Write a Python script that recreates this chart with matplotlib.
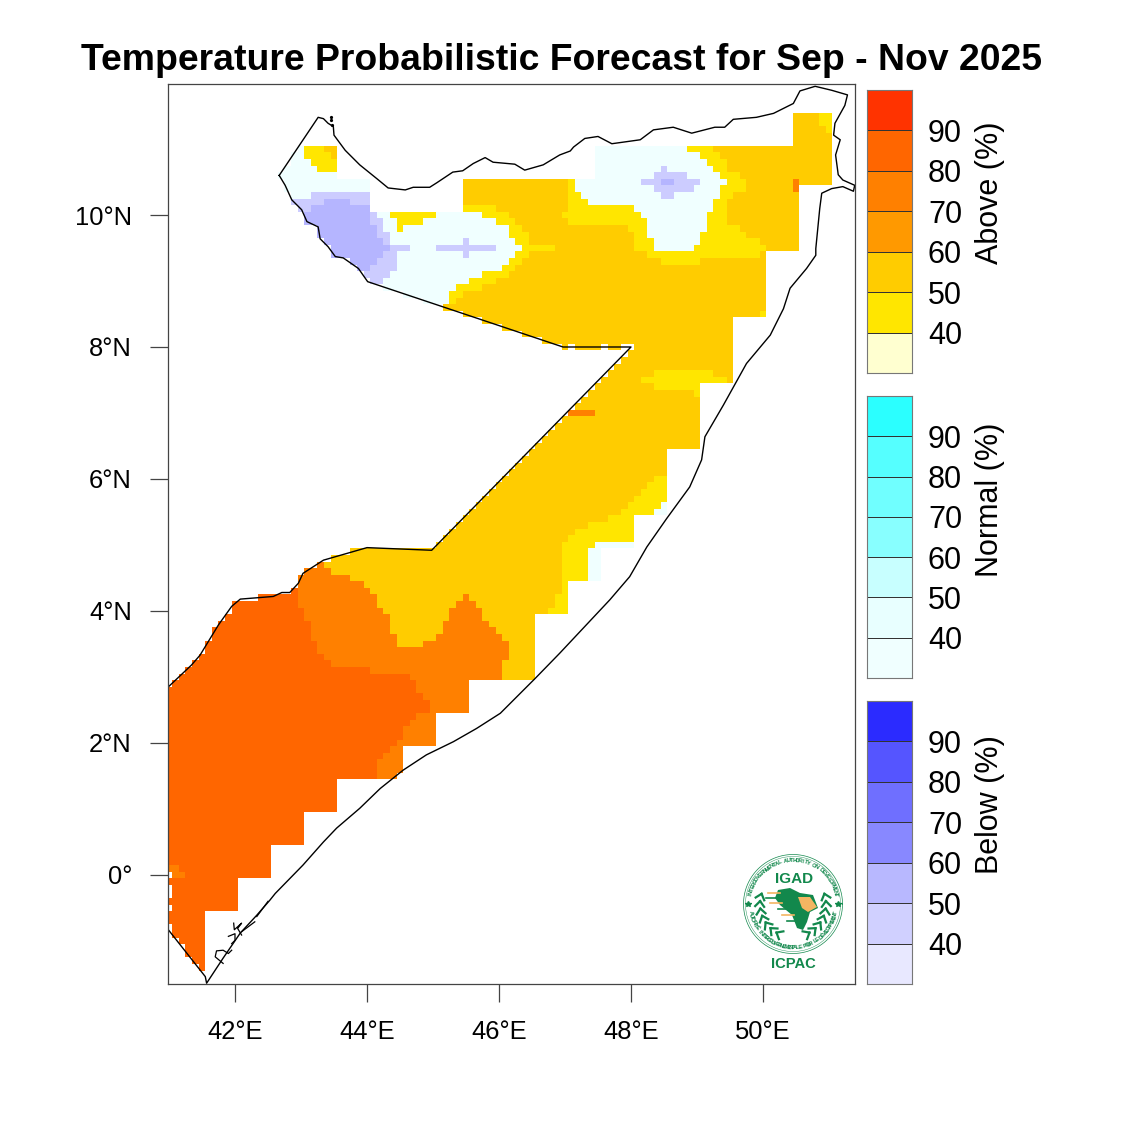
import numpy as np
import matplotlib
matplotlib.use("Agg")
import matplotlib.pyplot as plt
from matplotlib.colors import ListedColormap
from matplotlib.path import Path

plt.rcParams['font.family'] = ['Liberation Sans', 'DejaVu Sans']

# Somalia outline (lon, lat)
border = [(42.67,10.60),(43.26,11.48),(43.34,11.46),(43.41,11.39),(43.49,11.34),(43.50,11.21),(43.67,10.98),
    (43.89,10.76),(44.15,10.55),(44.32,10.41),(44.58,10.38),(44.70,10.42),(44.95,10.42),(45.06,10.49),(45.30,10.65),
    (45.45,10.67),(45.61,10.78),(45.79,10.87),(45.91,10.80),(46.24,10.77),(46.39,10.68),(46.67,10.76),(46.92,10.91),
    (47.08,10.97),(47.13,11.03),(47.30,11.16),(47.50,11.19),(47.71,11.08),(48.14,11.14),(48.34,11.29),(48.64,11.33),
    (48.92,11.24),(49.27,11.33),(49.42,11.33),(49.55,11.45),(49.90,11.48),(50.16,11.54),(50.46,11.69),(50.56,11.88),
    (50.79,11.95),(51.04,11.89),(51.28,11.82),(51.24,11.66),(51.09,11.39),(51.07,11.21),(51.17,11.14),(51.10,10.91),
    (51.14,10.61),(51.21,10.53),(51.39,10.45),(51.37,10.36),(51.21,10.43),(51.04,10.40),(50.89,10.33),(50.86,10.10),
    (50.80,9.49),(50.80,9.39),(50.66,9.19),(50.41,8.89),(50.31,8.58),(50.11,8.18),(49.75,7.75),(49.40,7.12),
    (49.12,6.64),(49.07,6.29),(48.89,5.88),(48.54,5.40),(48.24,4.97),(47.98,4.52),(47.68,4.17),(46.92,3.36),
    (46.55,2.98),(46.32,2.75),(46.02,2.45),(45.66,2.22),(45.31,2.02),(44.90,1.82),(44.55,1.59),(44.20,1.31),
    (43.89,1.01),(43.54,0.71),(43.34,0.50),(43.03,0.15),(42.61,-0.28),(42.53,-0.38),(42.33,-0.61),(42.08,-0.88),
    (41.82,-1.26),(41.57,-1.64),(41.55,-1.54),(40.99,-0.83),(40.99,2.85),(41.34,3.18),(41.47,3.33),(41.75,3.79),
    (41.95,4.07),(42.08,4.18),(42.58,4.22),(42.71,4.28),(42.83,4.28),(42.96,4.42),(43.03,4.57),(43.34,4.77),
    (44.00,4.96),(44.98,4.92),(48.00,8.00),(46.97,8.00),(44.01,8.99),(43.94,9.09),(43.87,9.19),(43.64,9.35),
    (43.52,9.37),(43.41,9.52),(43.29,9.64),(43.26,9.82),(43.09,9.90),(43.01,10.08),(42.86,10.23),(42.76,10.45),
    (42.67,10.60)]
islands = [[(41.82,-1.34),(41.70,-1.24),(41.72,-1.15),(41.82,-1.14),(41.90,-1.19),(41.95,-1.14)],
    [(41.90,-0.93),(42.00,-0.89),(42.00,-0.99),(41.95,-1.04)],
    [(41.98,-0.73),(41.99,-0.83),(42.10,-0.73),(42.04,-0.81),(42.10,-0.91)],
    [(42.10,-0.86),(42.30,-0.71)],
    [(42.33,-0.63),(42.50,-0.40)]]
islets_lon = [43.45, 43.46, 43.47]
islets_lat = [11.49, 11.44, 11.36]

# area with forecast data, stepped along the coast
coverage = [(41.55,-1.7),(41.55,-0.55),(42.05,-0.55),(42.05,-0.05),(42.55,-0.05),(42.55,0.45),(43.05,0.45),(43.05,0.95),
    (43.55,0.95),(43.55,1.45),(44.55,1.45),(44.55,1.95),(45.05,1.95),(45.05,2.45),(45.55,2.45),(45.55,2.95),(46.55,2.95),
    (46.55,3.95),(47.05,3.95),(47.05,4.45),(47.55,4.45),(47.55,4.95),(48.05,4.95),(48.05,5.45),(48.55,5.45),(48.55,6.45),
    (49.05,6.45),(49.05,7.45),(49.55,7.45),(49.55,8.45),(50.05,8.45),(50.05,9.45),(50.55,9.45),(50.55,10.45),(51.05,10.45),
    (51.05,11.55),(50.45,11.55),(50.45,11.05),(47.45,11.05),(47.45,10.55),(45.45,10.55),(45.45,10.05),(44.05,10.05),
    (44.05,10.55),(43.55,10.55),(43.55,11.05),(40.8,11.05),(40.8,-1.7)]

# forecast categories, painted in this order
above_70 = [(43.35,4.75),(43.35,4.65),(43.45,4.65),(43.45,4.55),(43.75,4.55),(43.75,4.45),(43.95,4.45),(43.95,4.35),
    (44.05,4.35),(44.05,4.25),(44.15,4.25),(44.15,4.05),(44.25,4.05),(44.25,3.95),(44.35,3.95),(44.35,3.65),(44.45,3.65),
    (44.45,3.45),(44.85,3.45),(44.85,3.55),(45.05,3.55),(45.05,3.65),(45.15,3.65),(45.15,3.85),(45.25,3.85),(45.25,4.05),
    (45.35,4.05),(45.35,4.15),(45.45,4.15),(45.45,4.25),(45.55,4.25),(45.55,4.15),(45.65,4.15),(45.65,4.05),(45.75,4.05),
    (45.75,3.85),(45.85,3.85),(45.85,3.75),(45.95,3.75),(45.95,3.65),(46.05,3.65),(46.05,3.55),(46.15,3.55),(46.15,3.25),
    (46.05,3.25),(46.05,2.95),(45.55,2.95),(45.55,2.45),(45.05,2.45),(45.05,1.95),(44.55,1.95),(44.55,1.45),(43.0,1.45),
    (42.5,4.6),(42.9,4.9),(43.35,4.9)]
above_80 = [(42.95,4.6),(42.95,4.05),(43.05,4.05),(43.05,3.85),(43.15,3.85),(43.15,3.55),(43.25,3.55),(43.25,3.35),
    (43.35,3.35),(43.35,3.25),(43.45,3.25),(43.45,3.15),(44.05,3.15),(44.05,3.05),(44.65,3.05),(44.65,2.95),(44.75,2.95),
    (44.75,2.75),(44.85,2.75),(44.85,2.65),(44.95,2.65),(44.95,2.45),(44.75,2.45),(44.75,2.35),(44.65,2.35),(44.65,2.25),
    (44.55,2.25),(44.55,2.05),(44.45,2.05),(44.45,1.95),(44.35,1.95),(44.35,1.85),(44.25,1.85),(44.25,1.75),(44.15,1.75),
    (44.15,1.45),(43.55,1.45),(43.55,-2.0),(40.8,-2.0),(40.8,4.6)]
above_70_south = [(40.95,0.15),(41.15,0.15),(41.15,0.05),(41.25,0.05),(41.25,-0.05),(40.95,-0.05)]
above_70_mid = [(47.05,7.05),(47.45,7.05),(47.45,6.95),(47.05,6.95)]
above_70_east = [(50.45,10.55),(50.55,10.55),(50.55,10.35),(50.45,10.35)]
above_40_west = [(45.1,10.05),(45.45,10.05),(45.45,10.15),(45.95,10.15),(45.95,10.05),(46.15,10.05),(46.15,9.95),(46.25,9.95),
    (46.25,9.85),(46.35,9.85),(46.35,9.75),(46.45,9.75),(46.45,9.55),(46.85,9.55),(46.85,9.45),(46.45,9.45),(46.45,9.35),
    (46.35,9.35),(46.35,9.25),(46.25,9.25),(46.25,9.15),(46.15,9.15),(46.15,9.05),(45.95,9.05),(45.95,8.95),(45.75,8.95),
    (45.75,8.85),(45.45,8.85),(45.45,8.75),(45.35,8.75),(45.35,8.65),(45.15,8.65),(45.15,8.55),(45.1,8.5)]
above_40_east = [(48.85,11.05),(49.25,11.05),(49.25,10.95),(49.35,10.95),(49.35,10.85),(49.45,10.85),(49.45,10.65),(49.65,10.65),
    (49.65,10.55),(49.75,10.55),(49.75,10.35),(49.55,10.35),(49.55,10.25),(49.45,10.25),(49.45,9.85),(49.65,9.85),(49.65,9.75),
    (49.75,9.75),(49.75,9.65),(49.95,9.65),(49.95,9.55),(50.05,9.55),(50.05,9.45),(49.95,9.45),(49.95,9.35),(49.05,9.35),
    (49.05,9.25),(48.45,9.25),(48.45,9.35),(48.25,9.35),(48.25,9.45),(48.05,9.45),(48.05,9.75),(47.95,9.75),(47.95,9.85),
    (47.05,9.85),(47.05,9.95),(46.95,9.95),(46.95,10.05),(47.05,10.05),(47.05,10.55),(47.45,10.55),(47.45,11.05)]
above_40_band = [(48.15,7.55),(48.35,7.55),(48.35,7.65),(49.25,7.65),(49.25,7.55),(49.45,7.55),(49.45,7.45),(49.05,7.45),
    (49.05,7.25),(48.95,7.25),(48.95,7.35),(48.35,7.35),(48.35,7.45),(48.15,7.45)]
above_40_coast = [(48.55,6.05),(48.35,6.05),(48.35,5.95),(48.25,5.95),(48.25,5.85),(48.15,5.85),(48.15,5.75),(48.05,5.75),
    (48.05,5.65),(47.95,5.65),(47.95,5.55),(47.85,5.55),(47.85,5.45),(47.65,5.45),(47.65,5.35),(47.35,5.35),(47.35,5.25),
    (47.15,5.25),(47.15,5.15),(47.05,5.15),(47.05,5.05),(46.95,5.05),(46.95,4.25),(46.85,4.25),(46.85,4.05),(46.75,4.05),
    (46.75,3.95),(47.05,3.95),(47.05,4.45),(47.35,4.45),(47.35,4.95),(47.45,4.95),(47.45,5.05),(48.05,5.05),(48.05,5.45),
    (48.35,5.45),(48.35,5.55),(48.45,5.55),(48.45,5.65),(48.55,5.65)]
above_40_cell = [(49.95,8.55),(50.05,8.55),(50.05,8.45),(49.95,8.45)]
above_40_ne = [(50.85,11.55),(51.05,11.55),(51.05,11.25),(50.95,11.25),(50.95,11.35),(50.85,11.35)]

normal_west = [(42.4,11.05),(43.55,11.05),(43.55,10.55),(44.05,10.55),(44.05,10.05),(45.75,10.05),(45.75,9.95),(45.95,9.95),
    (45.95,9.85),(46.15,9.85),(46.15,9.65),(46.25,9.65),(46.25,9.55),(46.35,9.55),(46.35,9.45),(46.25,9.45),(46.25,9.35),
    (46.15,9.35),(46.15,9.25),(46.05,9.25),(46.05,9.15),(45.75,9.15),(45.75,9.05),(45.55,9.05),(45.55,8.95),(45.35,8.95),
    (45.35,8.85),(45.25,8.85),(45.25,8.65),(45.15,8.65),(45.15,8.4),(43.5,8.4),(42.4,9.5)]
normal_east = [(47.45,11.05),(48.85,11.05),(48.85,10.95),(49.05,10.95),(49.05,10.85),(49.15,10.85),(49.15,10.75),(49.25,10.75),
    (49.25,10.65),(49.35,10.65),(49.35,10.55),(49.45,10.55),(49.45,10.45),(49.35,10.45),(49.35,10.25),(49.25,10.25),(49.25,10.05),
    (49.15,10.05),(49.15,9.75),(49.05,9.75),(49.05,9.55),(48.95,9.55),(48.95,9.45),(48.35,9.45),(48.35,9.65),(48.25,9.65),
    (48.25,9.95),(48.15,9.95),(48.15,10.05),(48.05,10.05),(48.05,10.15),(47.35,10.15),(47.35,10.25),(47.25,10.25),(47.25,10.35),
    (47.15,10.35),(47.15,10.55),(47.45,10.55)]
normal_coast = [(47.35,4.45),(47.55,4.45),(47.55,4.95),(48.05,4.95),(48.05,5.05),(47.45,5.05),(47.45,4.95),(47.35,4.95)]
normal_coast2 = [(48.35,5.45),(48.55,5.45),(48.55,5.65),(48.45,5.65),(48.45,5.55),(48.35,5.55)]

above_40_inner = [(44.35,10.05),(45.05,10.05),(45.05,9.95),(44.85,9.95),(44.85,9.85),(44.55,9.85),(44.55,9.75),(44.45,9.75),
    (44.45,9.95),(44.35,9.95)]
above_40_nw = [(43.05,11.05),(43.55,11.05),(43.55,10.65),(43.25,10.65),(43.25,10.75),(43.15,10.75),(43.15,10.85),(43.05,10.85)]
above_50_nw = [(43.35,11.05),(43.55,11.05),(43.55,10.85),(43.45,10.85),(43.45,10.95),(43.35,10.95)]

below_40_west = [(43.15,10.35),(44.05,10.35),(44.05,10.05),(44.15,10.05),(44.15,9.95),(44.25,9.95),(44.25,9.75),(44.35,9.75),
    (44.35,9.55),(44.65,9.55),(44.65,9.45),(44.45,9.45),(44.45,9.15),(44.35,9.15),(44.35,9.05),(44.25,9.05),(44.25,8.9),(43.5,8.9),
    (42.6,10.0),(42.75,10.25),(43.15,10.25)]
below_50_west = [(43.35,10.25),(43.75,10.25),(43.75,10.15),(44.05,10.15),(44.05,9.85),(44.15,9.85),(44.15,9.65),(44.25,9.65),
    (44.25,9.55),(44.35,9.55),(44.35,9.45),(44.25,9.45),(44.25,9.35),(44.15,9.35),(44.15,9.25),(44.05,9.25),(44.05,9.15),(43.85,9.15),
    (43.85,9.25),(43.65,9.25),(43.65,9.35),(43.45,9.35),(43.45,9.45),(43.35,9.45),(43.35,9.55),(43.25,9.55),(43.25,9.85),(43.05,9.85),
    (43.05,10.05),(43.15,10.05),(43.15,10.15),(43.35,10.15)]
below_40_cross = [(45.05,9.55),(45.45,9.55),(45.45,9.65),(45.55,9.65),(45.55,9.55),(45.95,9.55),(45.95,9.45),(45.55,9.45),
    (45.55,9.35),(45.45,9.35),(45.45,9.45),(45.05,9.45)]
below_40_east = [(48.45,10.75),(48.55,10.75),(48.55,10.65),(48.85,10.65),(48.85,10.55),(49.05,10.55),(49.05,10.45),(48.95,10.45),
    (48.95,10.35),(48.65,10.35),(48.65,10.25),(48.45,10.25),(48.45,10.35),(48.35,10.35),(48.35,10.45),(48.15,10.45),(48.15,10.55),
    (48.35,10.55),(48.35,10.65),(48.45,10.65)]
below_50_east = [(48.45,10.55),(48.65,10.55),(48.65,10.45),(48.45,10.45)]

# white holes along the western edge
missing_lon = [41.0, 41.0, 41.0, 41.0, 41.0]
missing_lat = [0.0, -0.2, -0.3, -0.5, -0.8]
# cells lying on the 8N border line
line_lon = [47.0, 47.2, 47.3, 47.4, 47.5, 47.7, 47.8]
line_lat = [8.0, 8.0, 8.0, 8.0, 8.0, 8.0, 8.0]

above_colors = ['#FFFFD0', '#FFE600', '#FFCC00', '#FF9900', '#FF8000', '#FF6600', '#FF3300']
normal_colors = ['#F0FFFF', '#E8FFFF', '#C8FFFF', '#88FFFF', '#70FFFF', '#55FFFF', '#2BFFFF']
below_colors = ['#E8E8FF', '#D0D0FF', '#B8B8FF', '#8888FF', '#6F6FFF', '#5555FF', '#2B2BFF']
bar_ticks = ['40', '50', '60', '70', '80', '90']

lon_ticks = [42, 44, 46, 48, 50]
lat_ticks = [0, 2, 4, 6, 8, 10]

# 0.1 degree grid
lons = np.round(np.arange(40.9, 51.5, 0.1), 1)
lats = np.round(np.arange(-1.7, 12.1, 0.1), 1)
lon2, lat2 = np.meshgrid(lons, lats)
pts = np.column_stack([lon2.ravel(), lat2.ravel()])

# grid codes: 1 above 50, 2 above 40, 3 above 70, 4 above 80, 5 normal 40, 6 below 40, 7 below 50
grid = np.zeros(lon2.shape)


def paint(poly, code):
    inside = Path(poly).contains_points(pts).reshape(lon2.shape)
    grid[inside] = code


grid[:] = 1
paint(above_70, 3)
paint(above_80, 4)
paint(above_70_south, 3)
paint(above_70_mid, 3)
paint(above_70_east, 3)
for p in [above_40_west, above_40_east, above_40_band, above_40_coast, above_40_cell, above_40_ne]:
    paint(p, 2)
for p in [normal_west, normal_east, normal_coast, normal_coast2]:
    paint(p, 5)
for p in [above_40_inner, above_40_nw]:
    paint(p, 2)
paint(above_50_nw, 1)
paint(below_40_west, 6)
paint(below_50_west, 7)
paint(below_40_cross, 6)
paint(below_40_east, 6)
paint(below_50_east, 7)

keep = Path(coverage).contains_points(pts) & Path(border).contains_points(pts)
grid[~keep.reshape(lon2.shape)] = 0
for lo, la in zip(missing_lon, missing_lat):
    grid[np.argmin(abs(lats - la)), np.argmin(abs(lons - lo))] = 0
for lo, la in zip(line_lon, line_lat):
    grid[np.argmin(abs(lats - la)), np.argmin(abs(lons - lo))] = 1

map_cmap = ListedColormap(['#FFFFFF', above_colors[2], above_colors[1], above_colors[4], above_colors[5],
                           normal_colors[0], '#CCCCFF', '#B5B5FF'])

W = 1125.0
fig = plt.figure(figsize=(11.25, 11.25), dpi=100)
ax = fig.add_axes([168 / W, 1 - 984 / W, 687 / W, 900 / W])
ax.imshow(grid, origin='lower', extent=(lons[0] - 0.05, lons[-1] + 0.05, lats[0] - 0.05, lats[-1] + 0.05),
          cmap=map_cmap, vmin=-0.5, vmax=7.5, interpolation='nearest', aspect='auto')
bx, by = zip(*border)
ax.plot(bx, by, color='black', lw=1.0)
for isl in islands:
    ix, iy = zip(*isl)
    ax.plot(ix, iy, color='black', lw=0.9)
ax.plot(islets_lon, islets_lat, ls='none', marker='o', ms=1.3, color='black')
ax.set_xlim(40.985, 51.394)
ax.set_ylim(-1.652, 11.985)
ax.set_xticks(lon_ticks)
ax.set_xticklabels([f'{v}°E' for v in lon_ticks])
ax.set_yticks(lat_ticks)
ax.set_yticklabels([f'{v}°N' if v else '0°' for v in lat_ticks])
ax.tick_params(length=13, width=0.9, color='#444444', labelsize=18.4, pad=13)
for s in ax.spines.values():
    s.set_color('#444444')
    s.set_linewidth(0.9)

fig.text(561.5 / W, 1 - 60.5 / W, 'Temperature Probabilistic Forecast for Sep - Nov 2025',
         fontsize=26.95, fontweight='bold', ha='center', va='center')

# colour bars
bars = [(above_colors, 90, 373, 'Above (%)', 193), (normal_colors, 396, 678, 'Normal (%)', 500),
        (below_colors, 701, 984, 'Below (%)', 805)]
for colors, top, bottom, label, label_y in bars:
    cax = fig.add_axes([867 / W, 1 - bottom / W, 45 / W, (bottom - top) / W])
    cax.pcolormesh([0, 1], np.arange(8), np.arange(7).reshape(-1, 1), cmap=ListedColormap(colors),
                   edgecolors='#333333', linewidth=0.7)
    cax.set_xticks([])
    cax.set_yticks(range(1, 7))
    cax.set_yticklabels(bar_ticks)
    cax.yaxis.tick_right()
    cax.tick_params(length=0, labelsize=22, pad=11.5)
    for s in cax.spines.values():
        s.set_color('#777777')
        s.set_linewidth(0.8)
    fig.text(990 / W, 1 - label_y / W, label, fontsize=22, rotation=90, ha='center', va='center')

# IGAD / ICPAC logo, drawn in pixel units
GREEN = '#12884C'
lg = fig.add_axes([735 / W, 1 - 975 / W, 115 / W, 125 / W])
lg.set_xlim(735, 850)
lg.set_ylim(975, 850)
lg.axis('off')
cx, cy = 793, 904
t = np.linspace(0, 2 * np.pi, 200)
for r, w in [(49.5, 0.5), (47.5, 0.3)]:
    lg.plot(cx + r * np.cos(t), cy + r * np.sin(t), color=GREEN, lw=w)


def ring_text(s, r, start, end, bottom=False):
    for ch, a in zip(s, np.linspace(start, end, len(s))):
        rad = np.deg2rad(a)
        lg.text(cx + r * np.cos(rad), cy - r * np.sin(rad), ch, fontsize=4.2, fontweight='bold', color=GREEN,
                ha='center', va='center', rotation=a + 90 if bottom else a - 90)


ring_text('INTERGOVERNMENTAL AUTHORITY ON DEVELOPMENT', 43.5, 168, 12)
ring_text('AUTORITÉ INTERGOUVERNEMENTALE POUR LE DÉVELOPPEMENT', 43.5, 192, 348, bottom=True)
lg.plot([748, 838], [904, 904], ls='none', marker='*', ms=4, color=GREEN)
lg.text(794, 879, 'IGAD', fontsize=11, fontweight='bold', color=GREEN, ha='center', va='center')
lg.text(793, 964, 'ICPAC', fontsize=10.6, fontweight='bold', color=GREEN, ha='center', va='center')
lg.fill([778, 790, 800, 813, 818, 810, 807, 803, 797, 792, 780, 775],
        [890, 888, 893, 895, 908, 912, 922, 930, 928, 915, 905, 898], color=GREEN, lw=0)
lg.fill([798, 810, 817, 808, 802], [897, 897, 907, 912, 908], color='#F3B562', lw=0)
for y0, x0, col in [(893, 768, '#F3B562'), (898, 766, GREEN), (903, 770, '#F3B562'), (909, 778, GREEN),
                    (915, 782, '#F3B562'), (921, 787, GREEN)]:
    lg.plot([x0, x0 + 12], [y0, y0], color=col, lw=1.2)
# wreath
for sign in [-1, 1]:
    for a in np.arange(-18, 62, 13):
        rad = np.deg2rad(a)
        px = cx + sign * 33 * np.cos(rad)
        py = cy + 33 * np.sin(rad)
        for da in [-40, 40]:
            d = np.deg2rad(a + 90 + da)
            lg.plot([px, px + sign * 7 * np.cos(d)], [py, py + 7 * np.sin(d)], color=GREEN, lw=1.6)

fig.savefig('out.png', dpi=100)
